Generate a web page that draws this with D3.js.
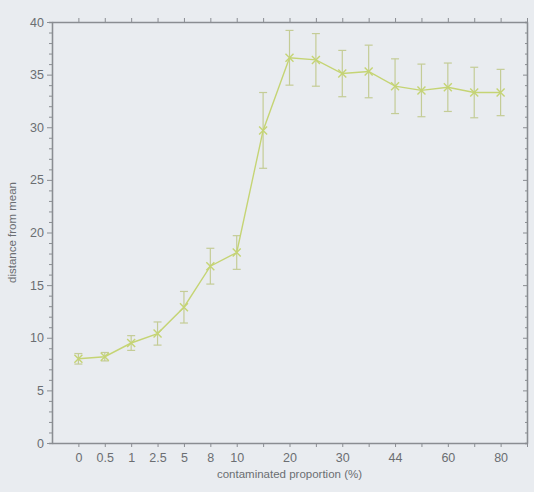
<!DOCTYPE html>
<html>
<head>
<meta charset="utf-8">
<script src="https://cdn.jsdelivr.net/npm/d3@7"></script>
<style>
  html, body { margin: 0; padding: 0; background: #e9ecf0; }
  svg { display: block; font-family: "Liberation Sans", Arial, sans-serif; }
</style>
</head>
<body>
<div id="chart"></div>
<script>
// contamination levels (%) on the x axis, one slot each
const categories = ['0', '0.5', '1', '2.5', '5', '8', '10', '15', '20', '25', '30', '37', '44', '50', '60', '70', '80']
// only some slots carry a printed label
const tickLabels = ['0', '0.5', '1', '2.5', '5', '8', '10', '', '20', '', '30', '', '44', '', '60', '', '80']
const meanDistance = [8.0, 8.2, 9.5, 10.4, 12.9, 16.8, 18.1, 29.7, 36.6, 36.4, 35.1, 35.3, 33.9, 33.5, 33.8, 33.3, 33.3]
const errorHalf = [0.5, 0.4, 0.7, 1.1, 1.5, 1.7, 1.6, 3.6, 2.6, 2.5, 2.2, 2.5, 2.6, 2.5, 2.3, 2.4, 2.2]
const yTicks = [0, 5, 10, 15, 20, 25, 30, 35, 40]

const width = 534
const height = 492
const margin = { top: 22, right: 7, bottom: 49, left: 52 }

const svg = d3.select('#chart')
  .append('svg')
  .attr('width', width)
  .attr('height', height)

const innerW = width - margin.left - margin.right
const innerH = height - margin.top - margin.bottom

// slots 0..18, points sit on 1..17
const x = d3.scaleLinear()
  .domain([0, categories.length + 1])
  .range([margin.left, margin.left + innerW])

const y = d3.scaleLinear()
  .domain([0, 40])
  .range([margin.top + innerH, margin.top])

const axisColor = '#8a8d92'
const textColor = '#6b6e72'
const lineColor = '#c5d474'
const barColor = '#c4cc96'

const allSlots = d3.range(1, categories.length + 2)
const labelled = d3.range(1, categories.length + 1).filter(s => tickLabels[s - 1] !== '')
const minor = d3.range(0, 41, 1).filter(v => v % 5 !== 0)

function styleAxis(g) {
  g.select('.domain').attr('stroke', axisColor).attr('stroke-width', 1.3)
  g.selectAll('.tick line').attr('stroke', axisColor)
  g.selectAll('.tick text').attr('fill', textColor).attr('font-size', 12.5)
}

// bottom axis: ticks on every slot, labels only where printed
svg.append('g')
  .attr('transform', `translate(0,${margin.top + innerH})`)
  .call(d3.axisBottom(x).tickValues(allSlots).tickSize(4).tickSizeOuter(0).tickFormat(''))
  .call(styleAxis)
svg.append('g')
  .attr('transform', `translate(0,${margin.top + innerH})`)
  .call(d3.axisBottom(x).tickValues(labelled).tickSize(0).tickPadding(10)
    .tickFormat(d => tickLabels[d - 1]))
  .call(g => g.select('.domain').remove())
  .call(styleAxis)

// top axis (ticks only)
svg.append('g')
  .attr('transform', `translate(0,${margin.top})`)
  .call(d3.axisTop(x).tickValues(allSlots).tickSize(4).tickSizeOuter(0).tickFormat(''))
  .call(styleAxis)

// left axis, major + minor
svg.append('g')
  .attr('transform', `translate(${margin.left},0)`)
  .call(d3.axisLeft(y).tickValues(minor).tickSize(3).tickFormat(''))
  .call(styleAxis)
svg.append('g')
  .attr('transform', `translate(${margin.left},0)`)
  .call(d3.axisLeft(y).tickValues(yTicks).tickSize(5).tickSizeOuter(0).tickPadding(3))
  .call(styleAxis)

// right axis, ticks pointing in
svg.append('g')
  .attr('transform', `translate(${margin.left + innerW},0)`)
  .call(d3.axisLeft(y).tickValues(minor).tickSize(2).tickFormat(''))
  .call(styleAxis)
svg.append('g')
  .attr('transform', `translate(${margin.left + innerW},0)`)
  .call(d3.axisLeft(y).tickValues(yTicks).tickSize(4).tickSizeOuter(0).tickFormat(''))
  .call(styleAxis)

// axis titles
svg.append('text')
  .attr('x', x((categories.length + 1) / 2))
  .attr('y', margin.top + innerH + 35)
  .attr('text-anchor', 'middle')
  .attr('fill', textColor)
  .attr('font-size', 11.5)
  .text('contaminated proportion (%)')

svg.append('text')
  .attr('transform', `translate(16,${y(20)}) rotate(-90)`)
  .attr('text-anchor', 'middle')
  .attr('fill', textColor)
  .attr('font-size', 11.5)
  .text('distance from mean')

const points = categories.map((c, i) => ({
  slot: i + 1,
  v: meanDistance[i],
  e: errorHalf[i]
}))

// error bars
const eb = svg.append('g').attr('stroke', barColor).attr('stroke-width', 1.2)
eb.selectAll('line.v')
  .data(points)
  .join('line')
  .attr('class', 'v')
  .attr('x1', d => x(d.slot)).attr('x2', d => x(d.slot))
  .attr('y1', d => y(d.v - d.e)).attr('y2', d => y(d.v + d.e))
eb.selectAll('line.t')
  .data(points)
  .join('line')
  .attr('class', 't')
  .attr('x1', d => x(d.slot) - 4).attr('x2', d => x(d.slot) + 4)
  .attr('y1', d => y(d.v + d.e)).attr('y2', d => y(d.v + d.e))
eb.selectAll('line.b')
  .data(points)
  .join('line')
  .attr('class', 'b')
  .attr('x1', d => x(d.slot) - 4).attr('x2', d => x(d.slot) + 4)
  .attr('y1', d => y(d.v - d.e)).attr('y2', d => y(d.v - d.e))

// line
svg.append('path')
  .datum(points)
  .attr('fill', 'none')
  .attr('stroke', lineColor)
  .attr('stroke-width', 1.4)
  .attr('d', d3.line().x(d => x(d.slot)).y(d => y(d.v)))

// x markers
svg.append('g')
  .selectAll('path')
  .data(points)
  .join('path')
  .attr('transform', d => `translate(${x(d.slot)},${y(d.v)})`)
  .attr('d', 'M-4,-4L4,4M-4,4L4,-4')
  .attr('stroke', lineColor)
  .attr('stroke-width', 1.4)
  .attr('fill', 'none')
</script>
</body>
</html>
